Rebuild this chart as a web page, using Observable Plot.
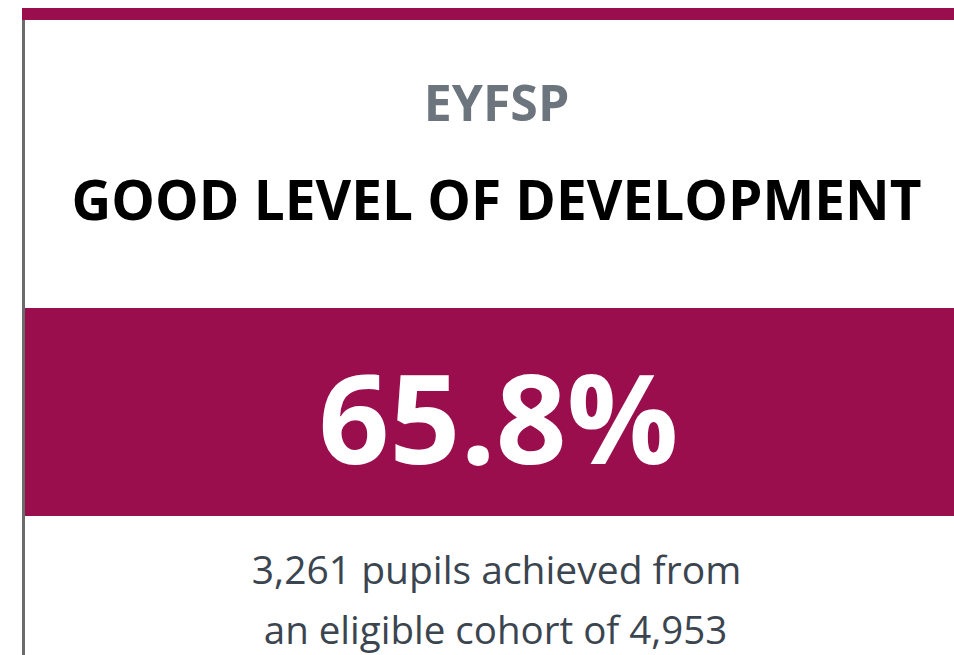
<!DOCTYPE html>
<html>
<head>
<meta charset="utf-8">
<script src="https://cdn.jsdelivr.net/npm/d3@7"></script>
<script src="https://cdn.jsdelivr.net/npm/@observablehq/plot@0.6"></script>
<style>
  html, body { margin: 0; padding: 0; background: #fff; }
  #chart svg { display: block; }
</style>
</head>
<body>
<div id="chart"></div>
<script>
const measureLabel = ["EYFSP"];
const measureTitle = ["GOOD LEVEL OF DEVELOPMENT"];
const measureValue = [65.8];          // percent achieving
const pupilsAchieved = [3261];
const eligibleCohort = [4953];

const fmt = d3.format(",");
const valueText = measureValue.map(v => `${v.toFixed(1)}%`);
const captionLines = [
  `${fmt(pupilsAchieved[0])} pupils achieved from`,
  `an eligible cohort of ${fmt(eligibleCohort[0])}`
];

// ---- Layout (card geometry in pixels) ----
const W = 954, H = 655;
const L = {
  borderX1: 22, borderX2: 25, borderY1: 10,
  topY1: 8, topY2: 20,
  bandY1: 308, bandY2: 516,
  cx: 496,
  labelY: 120, titleY: 219, valueY: 463, cap1Y: 583, cap2Y: 643,
  titleWidth: 850
};
const MAGENTA = "#9a0e4e";
const FONT = "'Open Sans', 'Noto Sans', sans-serif";

const chart = Plot.plot({
  width: W,
  height: H,
  margin: 0,
  x: {type: "identity", axis: null},
  y: {type: "identity", axis: null},
  style: {background: "#fff", fontFamily: FONT},
  marks: [
    // left border
    Plot.rect([0], {x1: L.borderX1, x2: L.borderX2, y1: L.borderY1, y2: H, fill: "#6b6b6b"}),
    // top accent bar
    Plot.rect([0], {x1: L.borderX1, x2: W, y1: L.topY1, y2: L.topY2, fill: MAGENTA}),
    // value band
    Plot.rect([0], {x1: L.borderX2, x2: W, y1: L.bandY1, y2: L.bandY2, fill: MAGENTA}),
    // label
    Plot.text(measureLabel, {
      x: L.cx, y: L.labelY, text: d => d, textAnchor: "middle", lineAnchor: "bottom",
      fontSize: 50, fontWeight: 700, fill: "#6c757d", fontFamily: FONT
    }),
    // title
    Plot.text(measureTitle, {
      x: L.cx, y: L.titleY, text: d => d, textAnchor: "middle", lineAnchor: "bottom",
      fontSize: 56, fontWeight: 700, fill: "#000", fontFamily: FONT, className: "card-title"
    }),
    // value
    Plot.text(valueText, {
      x: L.cx + 2, y: L.valueY, text: d => d, textAnchor: "middle", lineAnchor: "bottom",
      fontSize: 124, fontWeight: 700, fill: "#fff", fontFamily: FONT
    }),
    // caption
    Plot.text([captionLines[0]], {
      x: L.cx, y: L.cap1Y, text: d => d, textAnchor: "middle", lineAnchor: "bottom",
      fontSize: 39, fontWeight: 400, fill: "#3b4550", fontFamily: FONT
    }),
    Plot.text([captionLines[1]], {
      x: L.cx - 1, y: L.cap2Y, text: d => d, textAnchor: "middle", lineAnchor: "bottom",
      fontSize: 38.5, fontWeight: 400, fill: "#3b4550", fontFamily: FONT
    })
  ]
});
// fit the title to the reference's narrower width
chart.querySelectorAll(".card-title text").forEach(t => {
  t.setAttribute("textLength", L.titleWidth);
  t.setAttribute("lengthAdjust", "spacingAndGlyphs");
});
document.getElementById("chart").appendChild(chart);
</script>
</body>
</html>
